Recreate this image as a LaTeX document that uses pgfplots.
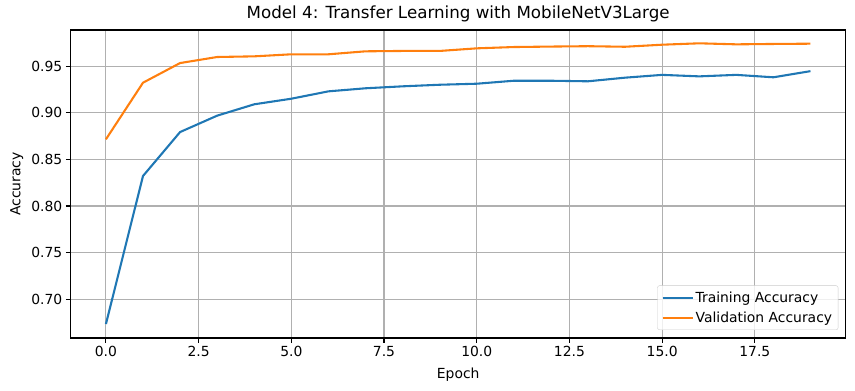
\documentclass[border=0pt]{standalone}
\usepackage{fontspec}
\setmainfont{DejaVu Sans}
\usepackage{pgfplots}
\pgfplotsset{compat=1.18}
\definecolor{tabblue}{HTML}{1F77B4}
\definecolor{taborange}{HTML}{FF7F0E}
\newcommand{\mfs}{\fontsize{13.9}{16.5}\selectfont}
\begin{document}
\begin{tikzpicture}
\begin{axis}[
  at={(0,0)}, anchor=south west,
  scale only axis, width=775pt, height=308pt,
  xmin=-0.95, xmax=19.95, ymin=0.6582, ymax=0.989,
  xtick={0,2.5,5,7.5,10,12.5,15,17.5},
  ytick={0.70,0.75,0.80,0.85,0.90,0.95},
  /pgf/number format/assume math mode=true,
  xticklabel style={/pgf/number format/.cd, fixed, fixed zerofill, precision=1},
  yticklabel style={/pgf/number format/.cd, fixed, fixed zerofill, precision=2},
  tick label style={font=\mfs},
  label style={font=\mfs},
  tick pos=left,
  tick align=outside,
  major tick length=4.86pt,
  tick style={black, line width=1.1pt},
  axis line style={line width=1.1pt},
  grid=major,
  major grid style={color=black!31, line width=1.1pt},
  xlabel={Epoch}, ylabel={Accuracy},
  xlabel style={at={(axis description cs:0.5,-0.12)}, anchor=center},
  ylabel style={at={(axis description cs:-0.0697,0.5)}, anchor=center},
  title={Model 4: Transfer Learning with MobileNetV3Large},
  title style={font=\fontsize{16.7}{20}\selectfont, at={(axis description cs:0.5,1)}, anchor=south, yshift=-1.8pt},
  legend style={at={(axis description cs:1,0)}, anchor=south east, xshift=-7.4pt, yshift=8pt,
    draw=black!20, rounded corners=2pt, fill=white, fill opacity=0.8, text opacity=1,
    font=\mfs, row sep=4pt, inner sep=4pt, nodes={inner sep=2pt}},
  legend cell align=left,
  legend image code/.code={\draw[#1] (0pt,0pt) -- (30pt,0pt);},
]
\addplot[tabblue, line width=2.08pt] coordinates {
(0,0.6732) (1,0.8322) (2,0.8794) (3,0.8970) (4,0.9092) (5,0.9152) (6,0.9231) (7,0.9264) (8,0.9285) (9,0.9302)
(10,0.9313) (11,0.9345) (12,0.9345) (13,0.9339) (14,0.9378) (15,0.9408) (16,0.9392) (17,0.9408) (18,0.9382) (19,0.9448)};
\addlegendentry{Training Accuracy}
\addplot[taborange, line width=2.08pt] coordinates {
(0,0.8716) (1,0.9324) (2,0.9535) (3,0.9600) (4,0.9607) (5,0.9629) (6,0.9629) (7,0.9661) (8,0.9665) (9,0.9665)
(10,0.9693) (11,0.9707) (12,0.9712) (13,0.9716) (14,0.9710) (15,0.9732) (16,0.9747) (17,0.9736) (18,0.9740) (19,0.9743)};
\addlegendentry{Validation Accuracy}
\end{axis}
\path[use as bounding box] (-70.7pt,-53pt) rectangle (784.3pt,338pt);
\end{tikzpicture}
\end{document}
